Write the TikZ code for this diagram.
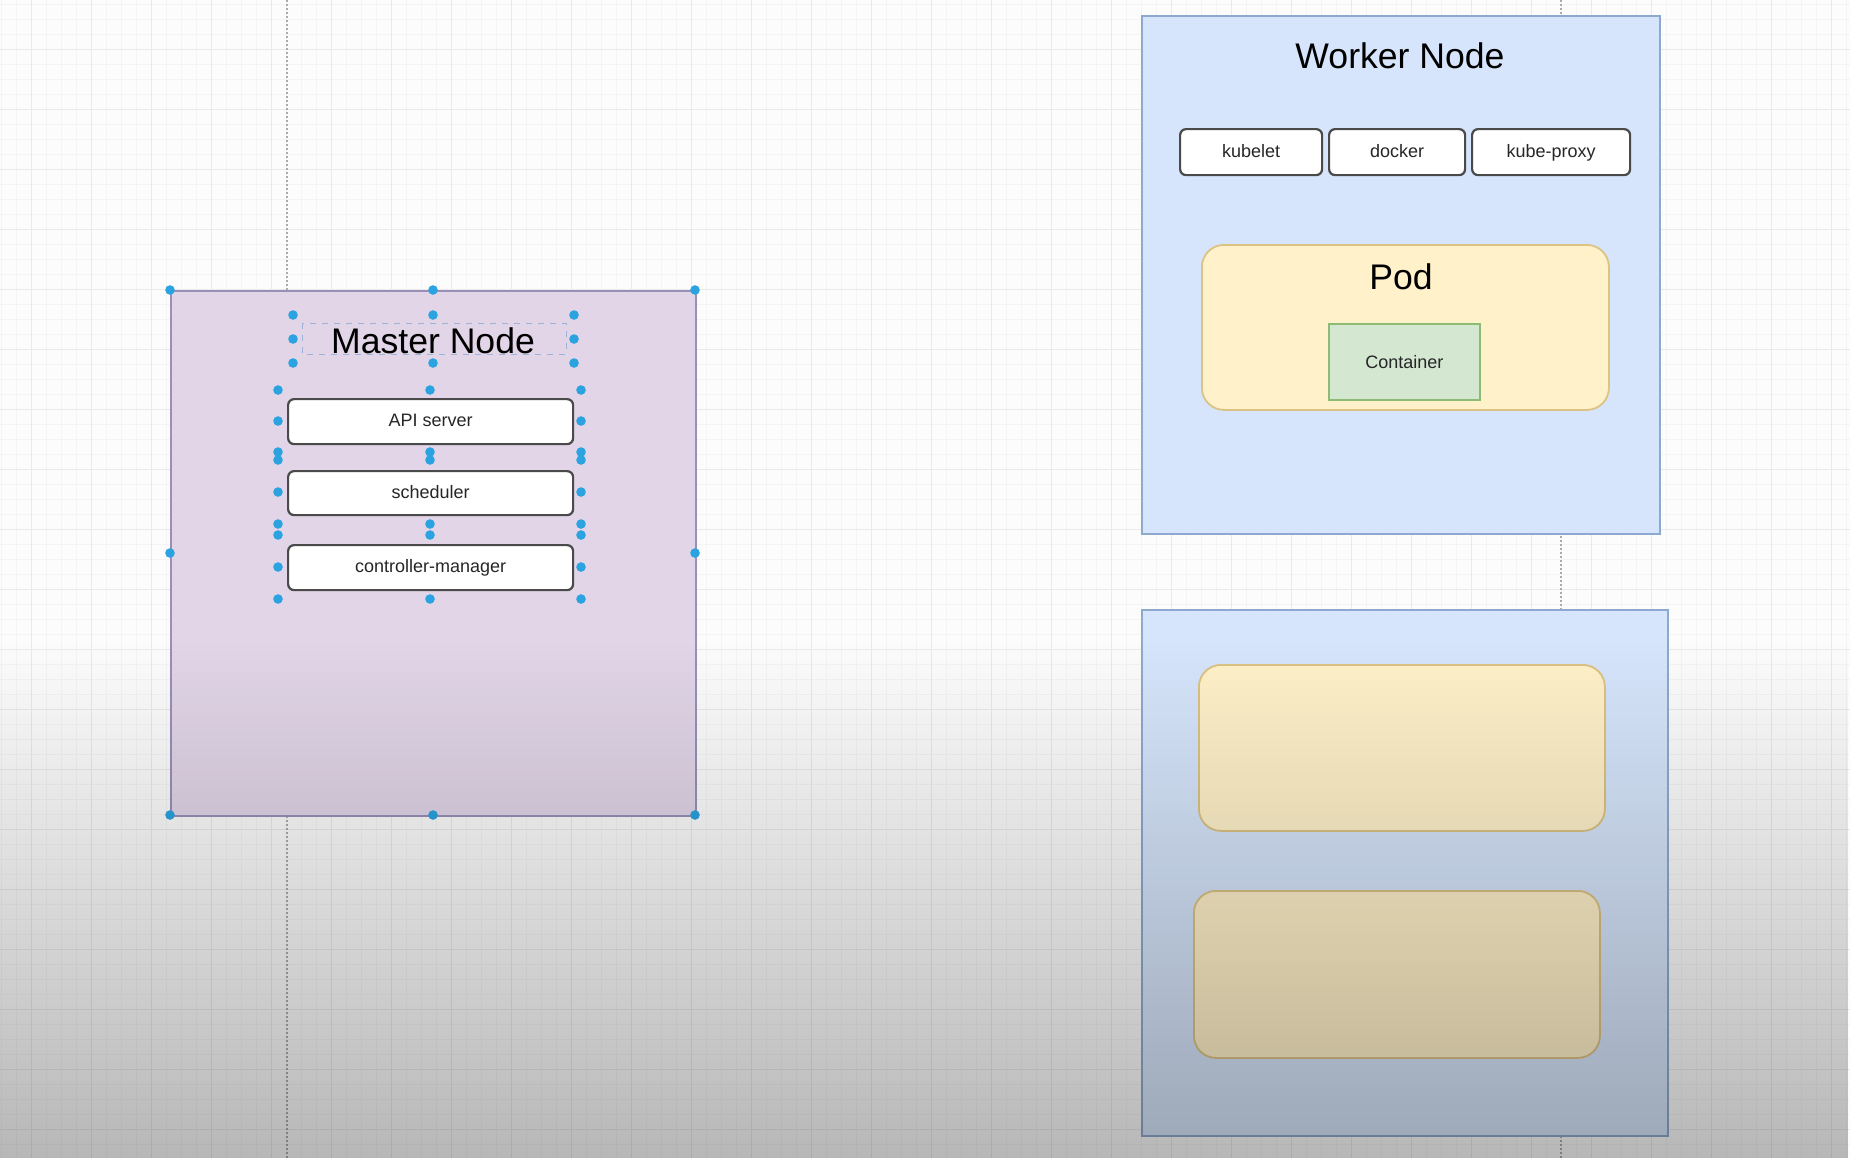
\documentclass[tikz,border=0pt]{standalone}
\usepackage{fontspec}
\setmainfont{Liberation Sans}
\usetikzlibrary{fadings}

\definecolor{canvas}{HTML}{FCFCFC}
\definecolor{gridminor}{HTML}{F4F4F4}
\definecolor{gridmajor}{HTML}{EAEAEA}
\definecolor{pageline}{HTML}{ABABAB}
\definecolor{masterfill}{HTML}{E1D5E7}
\definecolor{masterline}{HTML}{9890B8}
\definecolor{workerfill}{HTML}{D6E5FB}
\definecolor{workerline}{HTML}{8EA9CF}
\definecolor{podfill}{HTML}{FFF1C9}
\definecolor{podline}{HTML}{DCC383}
\definecolor{cntfill}{HTML}{D3E7D1}
\definecolor{cntline}{HTML}{8DBB74}
\definecolor{compline}{HTML}{4A4A4A}
\definecolor{handle}{HTML}{2AA3E0}
\definecolor{selline}{HTML}{9AB3D6}

\tikzfading[name=fadedown, top color=transparent!100, bottom color=transparent!0]

\tikzset{
  nodebox/.style={draw, line width=0.9pt, anchor=north west, inner sep=0pt},
  comp/.style={draw=compline, fill=white, line width=1.1pt, rounded corners=3pt,
    anchor=north west, inner sep=0pt, text height=6.6pt, text depth=1.6pt,
    font=\fontsize{9}{11}\selectfont, text=black!85},
  podbox/.style={draw=podline, fill=podfill, line width=0.9pt, rounded corners=11pt,
    anchor=north west, inner sep=0pt},
  cntbox/.style={draw=cntline, fill=cntfill, line width=0.9pt, anchor=north west,
    inner sep=0pt, font=\fontsize{9}{11}\selectfont, text=black!85},
  title/.style={anchor=base, inner sep=0pt, font=\fontsize{17.8}{21}\selectfont},
}

\begin{document}
\begin{tikzpicture}[x=0.5pt, y=-0.5pt]
    \useasboundingbox (0,0) rectangle (1850,1158);
    % Canvas
    \fill[canvas] (0,0) rectangle (1850,1158);
    % Grid
    \foreach \x in {1,16,...,1850} \draw[gridminor, line width=0.5pt] (\x,0) -- (\x,1158);
    \foreach \y in {4,19,...,1158} \draw[gridminor, line width=0.5pt] (0,\y) -- (1850,\y);
    \foreach \x in {31,91,...,1850} \draw[gridmajor, line width=0.5pt] (\x,0) -- (\x,1158);
    \foreach \y in {49,109,...,1158} \draw[gridmajor, line width=0.5pt] (0,\y) -- (1850,\y);
    % Page breaks
    \draw[pageline, line width=0.6pt, dash pattern=on 1pt off 1pt] (287,0) -- (287,1158);
    \draw[pageline, line width=0.6pt, dash pattern=on 1pt off 1pt] (1561,0) -- (1561,1158);

    % Master node
    \node[nodebox, draw=masterline, fill=masterfill, minimum width=262.5pt, minimum height=262.5pt] (master) at (170,290) {};
    \draw[selline, line width=0.5pt, dashed] (302,323) rectangle (566,354);
    \node[title] (mastertitle) at (433,353) {Master Node};
    \node[comp, minimum width=142.5pt, minimum height=22.5pt] (api) at (287,398) {API server};
    \node[comp, minimum width=142.5pt, minimum height=22pt] (sched) at (287,470) {scheduler};
    \node[comp, minimum width=142.5pt, minimum height=22.5pt] (ctrl) at (287,544) {controller-manager};

    % Worker node
    \node[nodebox, draw=workerline, fill=workerfill, minimum width=259pt, minimum height=259pt] (worker) at (1141,15) {};
    \node[title] (workertitle) at (1400,68) {Worker Node};
    \node[comp, minimum width=71pt, minimum height=23pt] (kubelet) at (1179,128) {kubelet};
    \node[comp, minimum width=68pt, minimum height=23pt] (docker) at (1328,128) {docker};
    \node[comp, minimum width=79pt, minimum height=23pt] (proxy) at (1471,128) {kube-proxy};
    \node[podbox, minimum width=203.5pt, minimum height=82.5pt] (pod) at (1201,244) {};
    \node[title] (podtitle) at (1401,289) {Pod};
    \node[cntbox, minimum width=75.5pt, minimum height=38pt] (container) at (1328,323) {Container};

    % Second worker
    \node[nodebox, draw=workerline, fill=workerfill, minimum width=263pt, minimum height=263pt] (worker2) at (1141,609) {};
    \node[podbox, minimum width=203pt, minimum height=83pt] (poda) at (1198,664) {};
    \node[podbox, minimum width=203pt, minimum height=83.5pt] (podb) at (1193,890) {};

    % Selection handles
    \foreach \hx/\hy in {170/290, 433/290, 695/290, 170/553, 695/553, 170/815, 433/815, 695/815,
                         293/315, 433/315, 574/315, 293/339, 574/339, 293/363, 433/363, 574/363}
      \fill[handle] (\hx,\hy) circle (2.4pt);
    \foreach \ya/\yb/\yc in {390/421/452, 460/492/524, 535/567/599} {
      \foreach \hx in {278,430,581} {
        \fill[handle] (\hx,\ya) circle (2.4pt);
        \fill[handle] (\hx,\yc) circle (2.4pt);
      }
      \fill[handle] (278,\yb) circle (2.4pt);
      \fill[handle] (581,\yb) circle (2.4pt);
    }

    % Dimming toward the bottom
    \fill[black, fill opacity=0.27, path fading=fadedown] (0,640) rectangle (1850,1158);
\end{tikzpicture}
\end{document}
